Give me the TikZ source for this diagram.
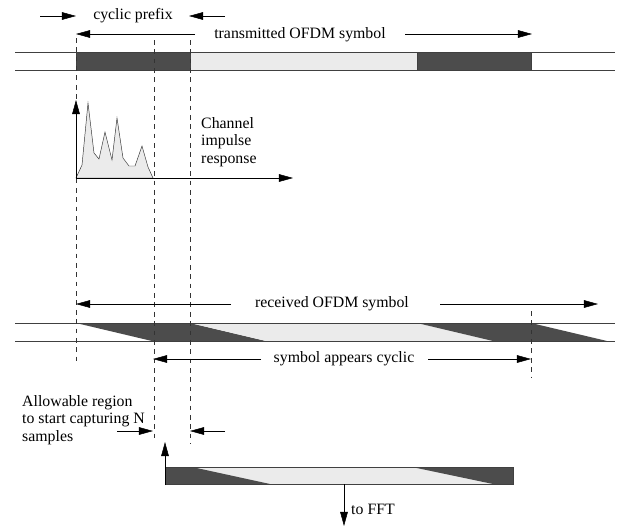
\documentclass[tikz,border=0pt]{standalone}
\usepackage{fontspec}
\setmainfont{Liberation Serif}
\usetikzlibrary{arrows.meta,positioning,calc}

\begin{document}
\begin{tikzpicture}[
            x=0.03cm, y=-0.03cm,
            lab/.style={draw=none, fill=none, inner sep=0pt, font=\fontsize{13.5}{15}\selectfont},
            arr/.style={-{Triangle[length=12pt,width=6.5pt]}, thin},
            guide/.style={dash pattern=on 4pt off 4pt, thin, black!80},
            band/.style={thin, draw=black!75},
            dark/.style={fill=black!70},
            light/.style={fill=black!8}
        ]
\useasboundingbox (0,0) rectangle (622,526);

% --- transmitted symbol band ---
            \filldraw[dark, band] (76,52) rectangle (190,70);
            \filldraw[light, band] (190,52) rectangle (417,70);
            \filldraw[dark, band] (417,52) rectangle (531,70);
            \draw[band] (15,52) -- (615,52);
            \draw[band] (15,70) -- (615,70);

% --- received symbol band ---
            \fill[dark] (76,323) -- (190,323) -- (266,341) -- (152,341) -- cycle;
            \fill[light] (190,323) -- (417,323) -- (493,341) -- (266,341) -- cycle;
            \fill[dark] (417,323) -- (531,323) -- (607,341) -- (493,341) -- cycle;
            \draw[band] (15,323) -- (615,323);
            \draw[band] (15,341) -- (615,341);

% --- captured window ---
            \fill[light] (165,467) rectangle (513,484);
            \fill[dark] (165,467) -- (192,467) -- (270,484) -- (165,484) -- cycle;
            \fill[dark] (412,467) -- (513,467) -- (513,484) -- (493,484) -- cycle;
            \draw[band] (165,467) rectangle (513,484);

% --- impulse response ---
            \filldraw[light, draw=black!80] (76,178) -- (82,165) -- (88,103) -- (94,153) -- (99,159)
                -- (105,132) -- (112,160) -- (117,118) -- (123,158) -- (129,166) -- (135,166)
                -- (142,146) -- (148,167) -- (153,178) -- cycle;

% --- vertical guides ---
            \coordinate (g1t) at (76,38);   \coordinate (g1b) at (76,362);
            \coordinate (g2t) at (154,40);  \coordinate (g2b) at (154,442);
            \coordinate (g3t) at (190,40);  \coordinate (g3b) at (190,444);
            \coordinate (g4t) at (531,311); \coordinate (g4b) at (531,378);
            \draw[guide] (g1t) -- (g1b);
            \draw[guide] (g2t) -- (g2b);
            \draw[guide] (g3t) -- (g3b);
            \draw[guide] (g4t) -- (g4b);

% --- axes ---
            \coordinate (o) at (76,178);
            \coordinate (ytip) at (76,100);
            \coordinate (xtip) at (293,178);
            \draw[arr] (o) -- (ytip);
            \draw[arr] (o) -- (xtip);

% --- labels ---
            \node[lab] (cp) at (133,16) {cyclic prefix};
            \node[lab] (tx) at (300,35) {transmitted OFDM symbol};
            \node[lab, align=left, anchor=north west] (cir) at (201,117) {Channel\\impulse\\response};
            \node[lab] (rx) at (332,304) {received OFDM symbol};
            \node[lab] (cyc) at (344,359) {symbol appears cyclic};
            \node[lab, align=left, anchor=north west] (reg) at (22,395) {Allowable region\\to start capturing N\\samples};
            \node[lab, anchor=west] (fft) at (351,509) {to FFT};

% --- arrow ends ---
            \coordinate (cpa) at (40,16);   \coordinate (cpb) at (76,16);
            \coordinate (cpc) at (225,16);  \coordinate (cpd) at (189,16);
            \coordinate (txa) at (195,34);  \coordinate (txb) at (76,34);
            \coordinate (txc) at (405,34);  \coordinate (txd) at (532,34);
            \coordinate (rxa) at (231,304); \coordinate (rxb) at (76,304);
            \coordinate (rxc) at (440,304); \coordinate (rxd) at (598,304);
            \coordinate (cya) at (261,359); \coordinate (cyb) at (153,359);
            \coordinate (cyc) at (428,359); \coordinate (cyd) at (531,359);
            \coordinate (rga) at (117,431); \coordinate (rgb) at (153,431);
            \coordinate (rgc) at (225,431); \coordinate (rgd) at (190,431);
            \coordinate (up0) at (165,485); \coordinate (up1) at (165,442);
            \coordinate (dn0) at (344,484); \coordinate (dn1) at (344,526);

% --- arrows ---
            \draw[arr] (cpa) -- (cpb);
            \draw[arr] (cpc) -- (cpd);
            \draw[arr] (txa) -- (txb);
            \draw[arr] (txc) -- (txd);
            \draw[arr] (rxa) -- (rxb);
            \draw[arr] (rxc) -- (rxd);
            \draw[arr] (cya) -- (cyb);
            \draw[arr] (cyc) -- (cyd);
            \draw[arr] (rga) -- (rgb);
            \draw[arr] (rgc) -- (rgd);
            \draw[arr] (up0) -- (up1);
            \draw[arr] (dn0) -- (dn1);

        \end{tikzpicture}
\end{document}
